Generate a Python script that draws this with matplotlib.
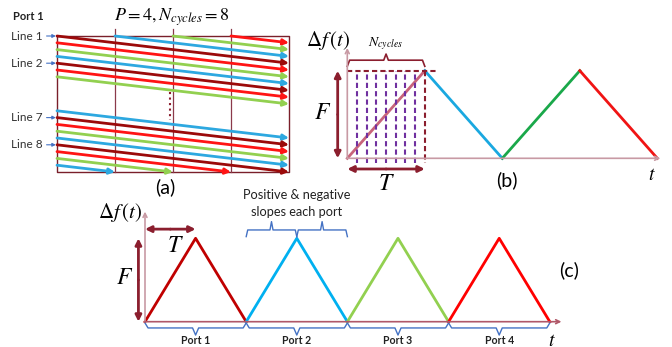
import matplotlib.pyplot as plt

plt.rcParams['font.family'] = ['Lato', 'DejaVu Sans']
plt.rcParams['mathtext.fontset'] = 'stix'

W, H = 672, 347

# panel (a): staggered chirp lines, colour cycles with the port
a_colors = ['#9B0A0A', '#FF1414', '#92D050', '#2DA8E0']
a_group1 = list(range(-3, 7))
a_group2 = list(range(11, 20))
a_rows = 20
a_cols = 4
line_labels = ['Line 1', 'Line 2', 'Line 7', 'Line 8']
line_label_rows = [0, 4, 12, 16]

# panel (b): one ramp per port segment
b_t = [0, 1, 2, 3, 4]
b_f = [0, 1, 0, 1, 0]
b_colors = ['#C8647A', '#1AA8E0', '#1AA84A', '#F01414']
n_cycles = 8

# panel (c): up/down triangle per port
c_ports = ['Port 1', 'Port 2', 'Port 3', 'Port 4']
c_colors = ['#C00000', '#00B0F0', '#92D050', '#FF0000']
c_t = [0, 1, 2]
c_f = [0, 1, 0]

maroon = '#8B1E2E'
rosy = '#C89AA4'
brace_blue = '#4472C4'

fig = plt.figure(figsize=(W / 100, H / 100), dpi=100)


def px_axes(x0, y0, x1, y1):
    ax = fig.add_axes([x0 / W, 1 - y1 / H, (x1 - x0) / W, (y1 - y0) / H])
    ax.set_axis_off()
    return ax


def ptext(x, y, s, **kw):
    kw.setdefault('ha', 'center')
    kw.setdefault('va', 'center')
    fig.text(x / W, 1 - y / H, s, **kw)


def arrow(ax, p0, p1, color, lw, style='-|>', ms=8):
    ax.annotate('', xy=p1, xytext=p0, annotation_clip=False,
                arrowprops=dict(arrowstyle=style, color=color, lw=lw,
                                mutation_scale=ms, shrinkA=0, shrinkB=0))


def brace(ax, x0, x1, y_end, y_mid, y_tip, color, lw=1.0):
    xc = (x0 + x1) / 2
    d = (x1 - x0) * 0.03
    xs = [x0, x0 + d, xc - d, xc, xc + d, x1 - d, x1]
    ys = [y_end, y_mid, y_mid, y_tip, y_mid, y_mid, y_end]
    ax.plot(xs, ys, color=color, lw=lw, clip_on=False)


# ---------------- (a)
ax = px_axes(57, 36, 289, 172)
ax.set_xlim(0, a_cols)
ax.set_ylim(a_rows, 0)
ax.plot([0, a_cols, a_cols, 0, 0], [0, 0, a_rows, a_rows, 0],
        color='#7A1F2A', lw=1, clip_on=False)
for c in range(1, a_cols):
    ax.plot([c, c], [-1, a_rows], color='#8B3A4A', lw=0.9, clip_on=False)
for k in a_group1 + a_group2:
    xs = max(0, -k)
    xe = min(a_cols, a_rows - k)
    arrow(ax, (xs, k + xs), (xe, k + xe), a_colors[k % 4], 2.0, ms=8)
ax.plot([1.95, 1.95], [8.2, 12.3], color=maroon, lw=1.5, ls=':', clip_on=False)
for lab, k in zip(line_labels, line_label_rows):
    ax.text(-0.25, k, lab, ha='right', va='center', fontsize=8.5, color='#333333')
    arrow(ax, (-0.18, k), (-0.02, k), brace_blue, 0.8, ms=5)

ptext(28, 17, 'Port 1', fontsize=8, fontweight='bold', color='#222222')
ptext(172, 17, r'$P = 4, N_{cycles} = 8$', fontsize=13)
ptext(165, 187, '(a)', fontsize=14)

# ---------------- (b)
ax = px_axes(347.3, 70.7, 347.3 + 4 * 77.5, 158.3)
ax.set_xlim(0, 4)
ax.set_ylim(0, 1)
arrow(ax, (0, 0), (0, 1.26), rosy, 1.2, style='->', ms=7)
arrow(ax, (0, 0), (4.04, 0), rosy, 1.2, style='->', ms=7)
for i in range(len(b_t) - 1):
    ax.plot(b_t[i:i + 2], b_f[i:i + 2], color=b_colors[i], lw=2, clip_on=False)
for i in range(1, n_cycles):
    ax.plot([i / n_cycles, i / n_cycles], [-0.05, 1], color='#7030A0',
            lw=1.5, ls=(0, (2.5, 1.5)), clip_on=False)
ax.plot([0, 1.17], [1, 1], color=maroon, lw=1.5, ls=(0, (2.5, 1.5)), clip_on=False)
ax.plot([1, 1], [1, -0.05], color=maroon, lw=1.5, ls=(0, (2.5, 1.5)), clip_on=False)
brace(ax, 0, 1, 1.05, 1.12, 1.19, maroon, lw=1.2)
arrow(ax, (-0.124, 0.5), (-0.124, 1), maroon, 2, ms=9)
arrow(ax, (-0.124, 0.5), (-0.124, 0), maroon, 2, ms=9)
arrow(ax, (0.5, -0.122), (0, -0.122), maroon, 2, ms=9)
arrow(ax, (0.5, -0.122), (1, -0.122), maroon, 2, ms=9)

ptext(386, 44, r'$N_{cycles}$', fontsize=10)
ptext(328, 40, r'$\Delta f\,(t)$', fontsize=15)
ptext(323, 113, r'$F$', fontsize=17)
ptext(386, 184, r'$T$', fontsize=17)
ptext(507, 180, '(b)', fontsize=14)
ptext(652, 175, r'$t$', fontsize=14)

# ---------------- (c)
ax = px_axes(145, 238.3, 145 + 8 * 50.6, 321.7)
ax.set_xlim(0, 8)
ax.set_ylim(0, 1)
arrow(ax, (0, 0), (0, 1.32), rosy, 1.2, style='->', ms=7)
arrow(ax, (0, 0), (8.23, 0), '#B05868', 1.2, style='->', ms=7)
for p, (name, col) in enumerate(zip(c_ports, c_colors)):
    ax.plot([2 * p + t for t in c_t], c_f, color=col, lw=2, clip_on=False)
    brace(ax, 2 * p, 2 * p + 2, -0.015, -0.075, -0.16, brace_blue)
    ax.text(2 * p + 1, -0.225, name, ha='center', va='center', fontsize=7.6,
            fontweight='bold', color='#222222')
brace(ax, 2, 3, 1.02, 1.1, 1.2, brace_blue)
brace(ax, 3, 4, 1.02, 1.1, 1.2, brace_blue)
arrow(ax, (0.5, 1.11), (0, 1.11), maroon, 2, ms=9)
arrow(ax, (0.5, 1.11), (1, 1.11), maroon, 2, ms=9)
arrow(ax, (-0.13, 0.5), (-0.13, 1), maroon, 2, ms=9)
arrow(ax, (-0.13, 0.5), (-0.13, 0), maroon, 2, ms=9)

ptext(297, 195, 'Positive & negative', fontsize=9.2, color='#222222')
ptext(297, 212, 'slopes each port', fontsize=9.2, color='#222222')
ptext(120, 213, r'$\Delta f\,(t)$', fontsize=15)
ptext(175, 245, r'$T$', fontsize=17)
ptext(125, 278, r'$F$', fontsize=17)
ptext(569, 270, '(c)', fontsize=14)
ptext(552, 340, r'$t$', fontsize=14)

fig.savefig('out.png', dpi=100)
